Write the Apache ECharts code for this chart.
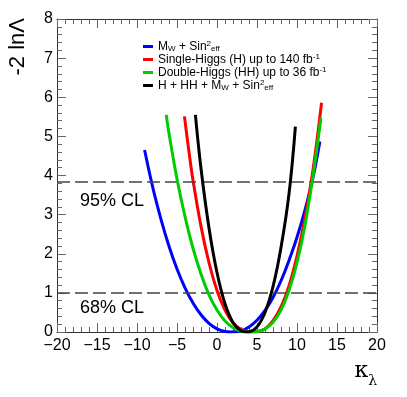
<!DOCTYPE html>
<html>
<head>
<meta charset="utf-8">
<script src="https://cdn.jsdelivr.net/npm/echarts@6/dist/echarts.min.js"></script>
<style>
html,body{margin:0;padding:0;background:#fff;}
#chart{width:407px;height:397px;}
</style>
</head>
<body>
<div id="chart"></div>
<script>
// ---- data ----
const kappaBlue = [-9.05,-8,-7,-6,-5,-4,-3,-2,-1,0,1,1.8,3,4,5,6,7,8,9,10,11,12,12.86];
const nllBlue   = [4.65,3.67,2.88,2.19,1.61,1.13,0.74,0.44,0.22,0.08,0.013,0,0.03,0.13,0.30,0.55,0.88,1.31,1.83,2.42,3.12,3.95,4.87];

const kappaRed = [-4.07,-3.5,-3,-2,-1,0,1,2,3,4,4.4,5,6,7,8,9,10,11,12,13.07];
const nllRed   = [5.51,4.6,3.88,2.70,1.77,1.06,0.56,0.23,0.06,0.003,0,0.007,0.08,0.29,0.64,1.18,1.94,2.92,4.15,5.86];

const kappaGreen = [-6.35,-6,-5,-4,-3,-2,-1,0,1,2,3,4,5,6,7,8,9,10,11,12,12.99];
const nllGreen   = [5.55,5.08,3.91,2.95,2.14,1.48,0.95,0.56,0.28,0.11,0.02,0,0.01,0.08,0.25,0.56,1.06,1.77,2.73,3.99,5.47];

const kappaBlack = [-2.7,-2,-1,0,1,2,3,3.7,4,5,6,7,8,9,9.8];
const nllBlack   = [5.55,4.18,2.66,1.52,0.72,0.24,0.03,0,0.004,0.13,0.50,1.16,2.16,3.53,5.25];

const seriesNames = ['MW + Sin2eff', 'Single-Higgs (H) up to 140 fb-1', 'Double-Higgs (HH) up to 36 fb-1', 'H + HH + MW + Sin2eff'];
const legendRich = [
  '{n|M}{sub|W}{n| + Sin}{sup|2}{sub|eff}',
  '{n|Single-Higgs (H) up to 140 fb}{sup|-1}',
  '{n|Double-Higgs (HH) up to 36 fb}{sup|-1}',
  '{n|H + HH + M}{sub|W}{n| + Sin}{sup|2}{sub|eff}'
];
const clLevels = [3.84, 1];
const clLabels = ['95% CL', '68% CL'];
const xTicksMin = -20, xTicksMax = 20, xInterval = 5;
const yTicksMin = 0, yTicksMax = 8, yInterval = 1;

function zip(a, b) { return a.map((v, i) => [v, b[i]]); }

const font = 'Liberation Sans, Arial, Helvetica, sans-serif';
const chart = echarts.init(document.getElementById('chart'), null, {renderer: 'canvas'});

const tickCommon = {
  axisLine: {show: true, onZero: false, lineStyle: {color: '#333', width: 1}},
  axisTick: {show: true, inside: true, length: 9, lineStyle: {color: '#666'}},
  minorTick: {show: true, splitNumber: 5, length: 5, lineStyle: {color: '#666'}},
  splitLine: {show: false},
  minorSplitLine: {show: false}
};

const colors = ['#0000ff', '#ff0000', '#00cc00', '#000000'];
const dataSets = [zip(kappaBlue, nllBlue), zip(kappaRed, nllRed), zip(kappaGreen, nllGreen), zip(kappaBlack, nllBlack)];

const series = dataSets.map((d, i) => ({
  name: seriesNames[i],
  type: 'line',
  data: d,
  smooth: 0.4,
  showSymbol: false,
  symbol: 'none',
  clip: true,
  lineStyle: {color: colors[i], width: 3},
  itemStyle: {color: colors[i]},
  z: 3 + i
}));

series[0].markLine = {
  silent: true,
  symbol: 'none',
  animation: false,
  lineStyle: {color: '#444', type: [13, 5], width: 1.5},
  data: clLevels.map((lv, i) => ({
    yAxis: lv,
    label: {
      show: true,
      formatter: clLabels[i],
      position: 'insideStartBottom',
      distance: i === 0 ? [23, 10] : [23, 6],
      color: '#000',
      fontSize: 18,
      fontFamily: font
    }
  }))
};

const option = {
  animation: false,
  backgroundColor: '#fff',
  grid: {left: 57, right: 30, top: 19, bottom: 65, containLabel: false},
  legend: {
    orient: 'vertical',
    left: 138,
    top: 35,
    itemWidth: 10,
    itemHeight: 3,
    itemGap: 0,
    icon: 'rect',
    data: seriesNames,
    formatter: name => legendRich[seriesNames.indexOf(name)],
    textStyle: {
      color: '#000',
      fontFamily: font,
      fontSize: 12,
      lineHeight: 13,
      rich: {
        n: {fontSize: 12, fontFamily: font, color: '#000', lineHeight: 13},
        sub: {fontSize: 8, fontFamily: font, color: '#000', verticalAlign: 'bottom', lineHeight: 8},
        sup: {fontSize: 8, fontFamily: font, color: '#000', verticalAlign: 'top', lineHeight: 8}
      }
    }
  },
  xAxis: [
    Object.assign({
      type: 'value', position: 'bottom', min: xTicksMin, max: xTicksMax, interval: xInterval,
      axisLabel: {show: true, fontSize: 16, fontFamily: font, color: '#000', margin: 6,
        formatter: v => String(v).replace('-', '\u2212')},
      name: '{k|\u03ba}{l|\u03bb}',
      nameLocation: 'end',
      nameGap: 0,
      nameTextStyle: {
        align: 'right', verticalAlign: 'top', padding: [28, 0, 0, 0],
        rich: {
          k: {fontSize: 22, fontFamily: 'DejaVu Serif, Liberation Serif, serif', color: '#000'},
          l: {fontSize: 14, fontFamily: 'DejaVu Serif, Liberation Serif, serif', color: '#000', verticalAlign: 'bottom', padding: [0,0,-6,0]}
        }
      }
    }, tickCommon),
    Object.assign({
      type: 'value', position: 'top', min: xTicksMin, max: xTicksMax, interval: xInterval,
      axisLabel: {show: false}
    }, tickCommon)
  ],
  yAxis: [
    Object.assign({
      type: 'value', position: 'left', min: yTicksMin, max: yTicksMax, interval: yInterval,
      axisLabel: {show: true, fontSize: 16, fontFamily: font, color: '#000', margin: 4},
      name: '-2 ln\u039b',
      nameLocation: 'end',
      nameRotate: 90,
      nameGap: 1,
      nameTextStyle: {fontSize: 22, fontFamily: font, color: '#000', align: 'right', verticalAlign: 'bottom', padding: [0, 0, 28, 0]}
    }, tickCommon),
    Object.assign({
      type: 'value', position: 'right', min: yTicksMin, max: yTicksMax, interval: yInterval,
      axisLabel: {show: false}
    }, tickCommon)
  ],
  series: series
};

chart.setOption(option);
</script>
</body>
</html>
